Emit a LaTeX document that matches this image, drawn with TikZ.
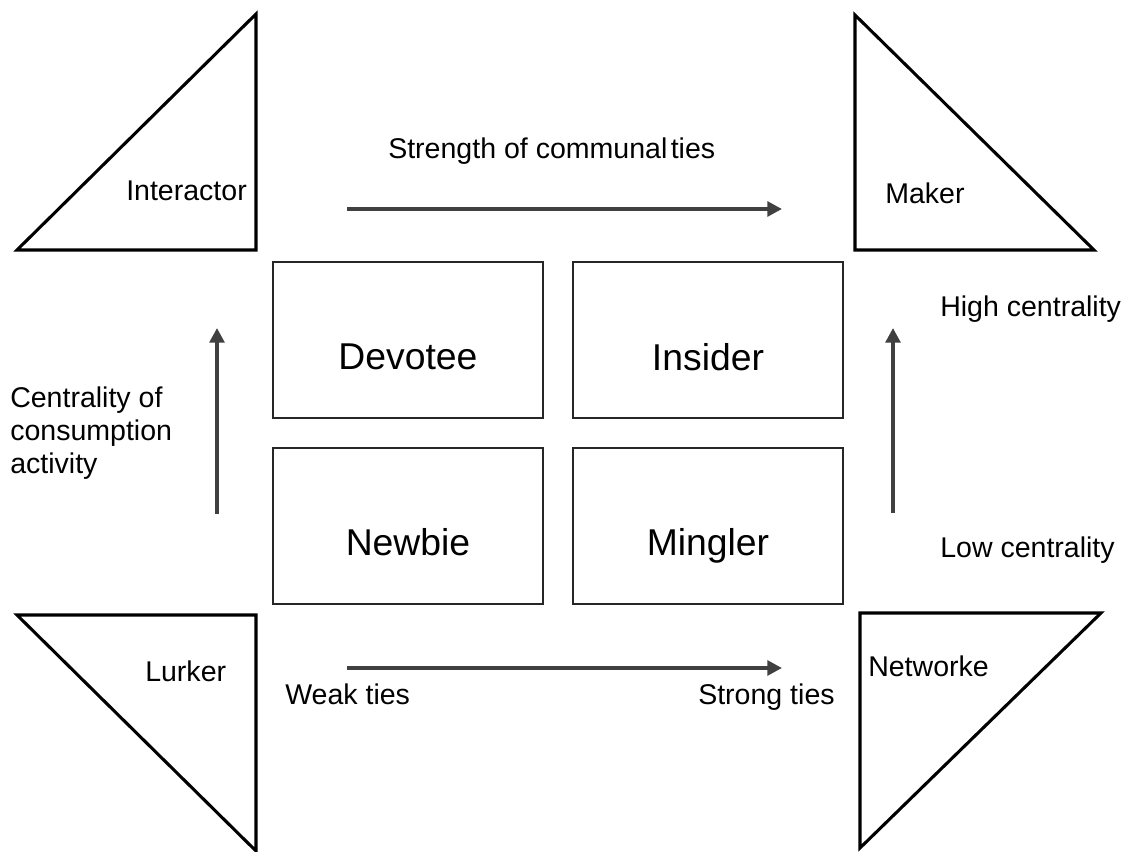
\documentclass[tikz,border=0pt]{standalone}
\usepackage{fontspec}
\setmainfont{Liberation Sans}
\usetikzlibrary{arrows.meta}
\definecolor{arrowgray}{HTML}{404040}
\begin{document}
\begin{tikzpicture}[x=0.75pt,y=-0.75pt,
  tri/.style={draw=black, line width=2.3pt, line join=miter},
  quad/.style={draw=black!85, line width=1.1pt, inner sep=0pt, outer sep=0pt,
    minimum width=202.5pt, minimum height=117pt},
  boxlabel/.style={inner sep=0pt, anchor=base, font=\fontsize{28pt}{32pt}\selectfont},
  small/.style={inner sep=0pt, anchor=base west, font=\fontsize{21.4pt}{24.75pt}\selectfont},
  axis/.style={draw=arrowgray, line width=3pt, -{Triangle[length=11pt,width=11pt]}}]
\useasboundingbox (0,0) rectangle (1129,852);
% triangles
\draw[tri] (17,250) -- (256,14) -- (256,250) -- cycle;
\draw[tri] (855,15) -- (855,250) -- (1094,250) -- cycle;
\draw[tri] (17,615) -- (256,615) -- (256,851) -- cycle;
\draw[tri] (860,613) -- (1101,613) -- (860,848) -- cycle;
% triangle labels
\node[small] (interactor) at (126,201) {Interactor};
\node[small] (maker) at (885,204) {Maker};
\node[small] (lurker) at (145,681) {Lurker};
\node[small] (networker) at (868,676) {Networke};
% boxes
\node[quad] (devotee) at (408,340) {};
\node[quad] (insider) at (708,340) {};
\node[quad] (newbie) at (408,526) {};
\node[quad] (mingler) at (708,526) {};
\node[boxlabel] (devl) at (408,370) {Devotee};
\node[boxlabel] (insl) at (708,371) {Insider};
\node[boxlabel] (newl) at (408,555) {Newbie};
\node[boxlabel] (minl) at (708,555) {Mingler};
% axis labels
\node[small] (strength) at (388,159) {Strength of communal\hspace{0.12em}ties};
\node[small] (high) at (940,317) {High centrality};
\node[small] (low) at (940,557) {Low centrality};
\node[small, anchor=north west, align=left] (centr) at (10,387) {Centrality of\\consumption\\activity};
\node[small] (weak) at (285,704) {Weak ties};
\node[small] (strong) at (698,704) {Strong ties};
% arrows
\coordinate (ta) at (347,209); \coordinate (tb) at (782,209);
\coordinate (ba) at (347,668); \coordinate (bb) at (782,668);
\coordinate (la) at (217,514); \coordinate (lb) at (217,328);
\coordinate (ra) at (893,513); \coordinate (rb) at (893,328);
\draw[axis] (ta) -- (tb);
\draw[axis] (ba) -- (bb);
\draw[axis] (la) -- (lb);
\draw[axis] (ra) -- (rb);
\end{tikzpicture}
\end{document}
